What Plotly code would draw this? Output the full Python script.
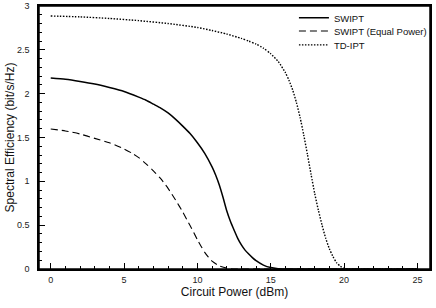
import plotly.graph_objects as go

# Circuit power (dBm) and spectral efficiency (bit/s/Hz)
x_swipt = [0, 1, 2, 3, 4, 5, 6, 6.5, 7, 7.5, 8, 8.5, 9, 9.5, 10, 10.5, 11, 11.25, 11.5, 11.75, 12,
           12.25, 12.5, 12.75, 13, 13.25, 13.5, 13.75, 14, 14.5, 15, 15.5, 16, 20, 25]
y_swipt = [2.18, 2.165, 2.14, 2.11, 2.07, 2.025, 1.96, 1.925, 1.88, 1.835, 1.78, 1.71, 1.63, 1.545, 1.44,
           1.32, 1.165, 1.07, 0.955, 0.815, 0.665, 0.545, 0.445, 0.35, 0.275, 0.215, 0.17, 0.13, 0.095,
           0.045, 0.016, 0.004, 0, 0, 0]

x_eq = [0, 1, 2, 3, 4, 5, 5.5, 6, 6.5, 7, 7.5, 8, 8.5, 9, 9.5, 9.75, 10, 10.25, 10.5, 10.75, 11,
        11.5, 12, 12.5, 15, 20, 25]
y_eq = [1.597, 1.575, 1.54, 1.49, 1.44, 1.37, 1.325, 1.27, 1.20, 1.12, 1.03, 0.92, 0.79, 0.65, 0.495,
        0.415, 0.335, 0.26, 0.19, 0.135, 0.09, 0.035, 0.01, 0, 0, 0, 0]

x_td = [0, 2, 4, 6, 8, 10, 11, 12, 13, 13.5, 14, 14.5, 15, 15.5, 16, 16.25, 16.5, 16.75, 17, 17.25,
        17.5, 17.75, 18, 18.25, 18.5, 18.75, 19, 19.25, 19.5, 19.75, 20, 20.3, 25]
y_td = [2.886, 2.876, 2.858, 2.833, 2.80, 2.755, 2.72, 2.68, 2.63, 2.60, 2.565, 2.52, 2.455, 2.37,
        2.24, 2.15, 2.04, 1.90, 1.73, 1.53, 1.31, 1.08, 0.86, 0.67, 0.50, 0.35, 0.23, 0.14, 0.07,
        0.03, 0.01, 0, 0]

names = ["SWIPT", "SWIPT (Equal Power)", "TD-IPT"]

font_family = "Liberation Sans, Arial, Helvetica, sans-serif"

fig = go.Figure()
fig.add_trace(go.Scatter(x=x_swipt, y=y_swipt, mode="lines", name=names[0], legend="legend",
                         line=dict(color="black", width=1.5, shape="spline", smoothing=0.6)))
fig.add_trace(go.Scatter(x=x_eq, y=y_eq, mode="lines", name=names[1], legend="legend2",
                         line=dict(color="black", width=1.1, dash="7px,4px", shape="spline", smoothing=0.6)))
fig.add_trace(go.Scatter(x=x_td, y=y_td, mode="lines", name=names[2], legend="legend3",
                         line=dict(color="black", width=1.4, dash="1.5px,1.5px", shape="spline", smoothing=0.6)))

axis_common = dict(
    showline=True, linecolor="black", linewidth=1.5, mirror=True,
    showgrid=False, zeroline=False, automargin=False,
    ticks="inside", ticklen=6, tickwidth=1.2, tickcolor="black",
    tickfont=dict(family=font_family, size=9, color="#222"),
)

fig.update_xaxes(
    range=[-0.8, 25.86], tick0=0, dtick=5,
    minor=dict(ticks="inside", ticklen=3, tickwidth=1, tickcolor="black", dtick=1, tick0=0, showgrid=False),
    title=dict(text="Circuit Power (dBm)", font=dict(family=font_family, size=12, color="#111"), standoff=2),
    ticklabelstandoff=1,
    **axis_common,
)
fig.update_yaxes(
    range=[0, 3], tick0=0, dtick=0.5,
    minor=dict(ticks="inside", ticklen=3, tickwidth=1, tickcolor="black", dtick=0.1, tick0=0, showgrid=False),
    title=dict(text="Spectral Efficiency (bit/s/Hz)", font=dict(family=font_family, size=12, color="#111"), standoff=0),
    ticklabelstandoff=6,
    **axis_common,
)

leg_common = dict(x=0.652, xanchor="left", yanchor="middle",
                  bgcolor="rgba(0,0,0,0)", borderwidth=0,
                  font=dict(family=font_family, size=9.5, color="#111"))

fig.update_layout(
    width=436, height=308,
    margin=dict(l=39, r=6, t=6, b=39, autoexpand=False),
    paper_bgcolor="white", plot_bgcolor="white",
    font=dict(family=font_family, size=10, color="#111"),
    legend=dict(y=0.955, **leg_common),
    legend2=dict(y=0.905, **leg_common),
    legend3=dict(y=0.852, **leg_common),
    showlegend=True,
    shapes=[dict(type="rect", xref="paper", yref="paper", x0=0, y0=0, x1=1, y1=1,
                 line=dict(color="black", width=1.5), layer="above")],
)

fig.write_html("out.html", config={"displayModeBar": False},
               post_script="document.body.style.margin='0';document.body.style.padding='0';")
